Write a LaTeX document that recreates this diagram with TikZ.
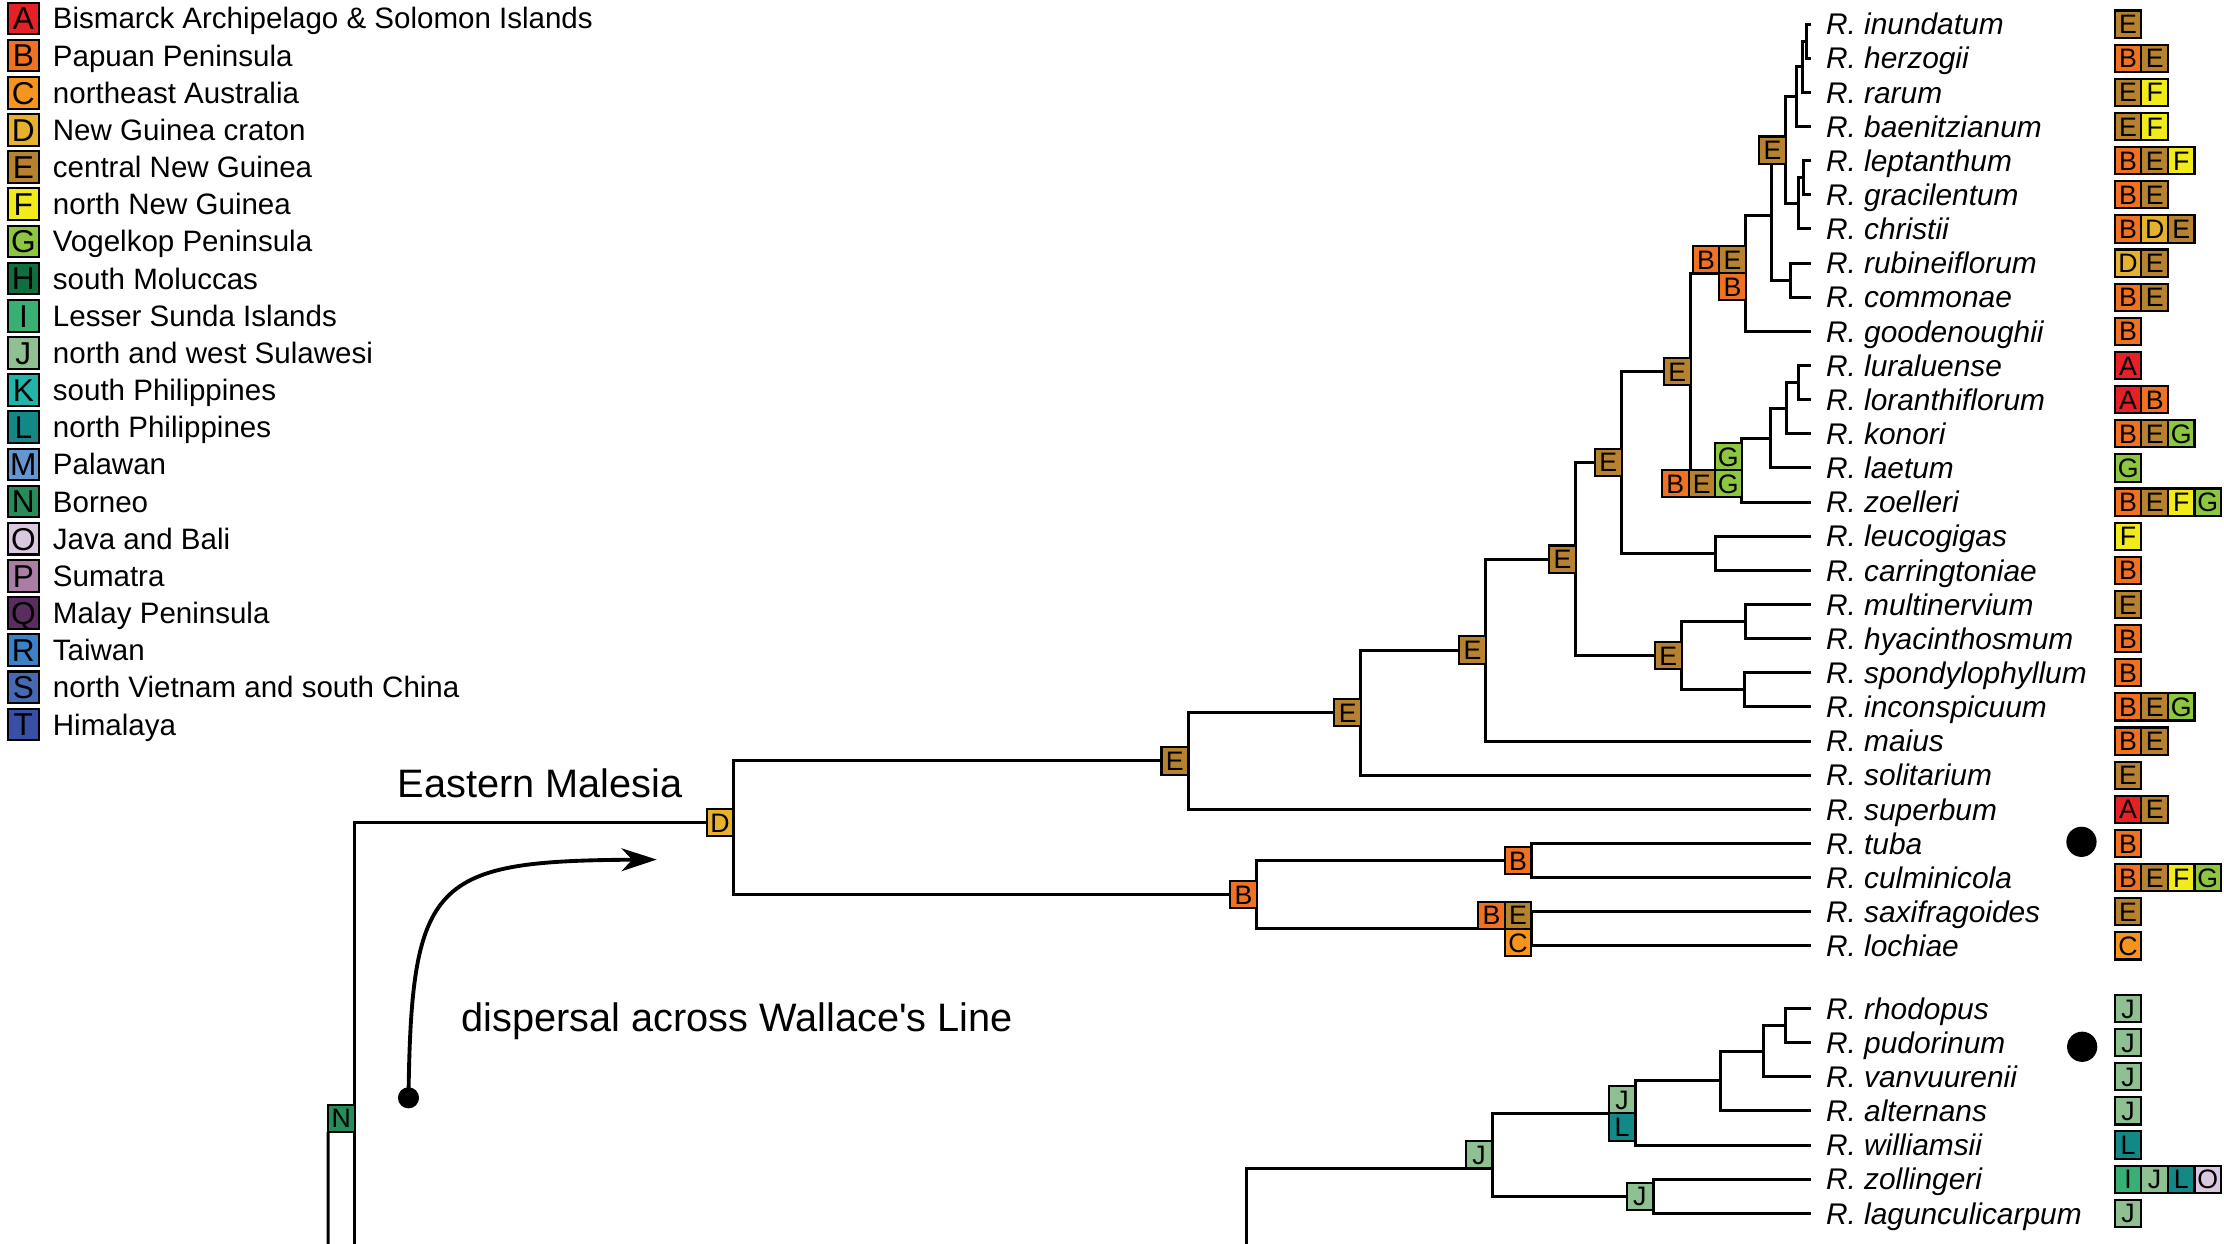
\documentclass[tikz,border=0pt]{standalone}
\usepackage{fontspec}
\setmainfont{Liberation Sans}
\usetikzlibrary{positioning, arrows.meta}

\definecolor{areaA}{RGB}{230,32,39}
\definecolor{areaB}{RGB}{241,113,34}
\definecolor{areaC}{RGB}{247,148,29}
\definecolor{areaD}{RGB}{230,178,46}
\definecolor{areaE}{RGB}{183,130,47}
\definecolor{areaF}{RGB}{242,235,26}
\definecolor{areaG}{RGB}{141,198,63}
\definecolor{areaH}{RGB}{17,110,62}
\definecolor{areaI}{RGB}{56,176,116}
\definecolor{areaJ}{RGB}{143,192,146}
\definecolor{areaK}{RGB}{32,180,170}
\definecolor{areaL}{RGB}{20,135,135}
\definecolor{areaM}{RGB}{100,150,210}
\definecolor{areaN}{RGB}{40,140,90}
\definecolor{areaO}{RGB}{218,200,225}
\definecolor{areaP}{RGB}{170,125,165}
\definecolor{areaQ}{RGB}{90,45,95}
\definecolor{areaR}{RGB}{62,128,200}
\definecolor{areaS}{RGB}{70,105,180}
\definecolor{areaT}{RGB}{55,80,165}

\begin{document}
\begin{tikzpicture}[x=0.14184mm, y=-0.14184mm]

\tikzset{branch/.style = {line width=0.85pt}}
\tikzset{cell/.style = {draw, fill=#1, line width=0.6pt, minimum width=7.55pt, minimum height=7.75pt, inner sep=0pt, outer sep=0pt, font=\fontsize{7.6}{8}\selectfont, text height=5.45pt, text depth=0pt}}
\tikzset{legbox/.style = {draw, fill=#1, line width=0.6pt, minimum width=8.8pt, minimum height=9pt, inner sep=0pt, outer sep=0pt, font=\fontsize{9}{10}\selectfont, text height=6.45pt, text depth=0pt}}
\tikzset{legtext/.style = {anchor=west, inner xsep=3.8pt, inner ysep=0pt, font=\fontsize{8.4}{9}\selectfont, text height=6pt, text depth=0pt}}
\tikzset{taxon/.style = {anchor=west, inner xsep=4.2pt, inner ysep=0pt, font=\fontsize{8.5}{10}\selectfont\itshape, text height=6.1pt, text depth=0pt}}
\tikzset{title/.style = {anchor=west, inner sep=0pt, font=\fontsize{11.3}{13}\selectfont, text height=8.1pt, text depth=0pt}}
\tikzset{dot/.style = {circle, fill, inner sep=0pt, minimum size=8.6pt}}

\useasboundingbox (0,0) rectangle (1568,877);

%legend
\node[legbox=areaA] (kA) at (16.5,13) {A};
\node[legtext, right=0pt of kA] (kAt) {Bismarck Archipelago \& Solomon Islands};
\node[legbox=areaB] (kB) at (16.5,39.2) {B};
\node[legtext, right=0pt of kB] (kBt) {Papuan Peninsula};
\node[legbox=areaC] (kC) at (16.5,65.4) {C};
\node[legtext, right=0pt of kC] (kCt) {northeast Australia};
\node[legbox=areaD] (kD) at (16.5,91.6) {D};
\node[legtext, right=0pt of kD] (kDt) {New Guinea craton};
\node[legbox=areaE] (kE) at (16.5,117.8) {E};
\node[legtext, right=0pt of kE] (kEt) {central New Guinea};
\node[legbox=areaF] (kF) at (16.5,144) {F};
\node[legtext, right=0pt of kF] (kFt) {north New Guinea};
\node[legbox=areaG] (kG) at (16.5,170.2) {G};
\node[legtext, right=0pt of kG] (kGt) {Vogelkop Peninsula};
\node[legbox=areaH] (kH) at (16.5,196.4) {H};
\node[legtext, right=0pt of kH] (kHt) {south Moluccas};
\node[legbox=areaI] (kI) at (16.5,222.6) {I};
\node[legtext, right=0pt of kI] (kIt) {Lesser Sunda Islands};
\node[legbox=areaJ] (kJ) at (16.5,248.8) {J};
\node[legtext, right=0pt of kJ] (kJt) {north and west Sulawesi};
\node[legbox=areaK] (kK) at (16.5,275) {K};
\node[legtext, right=0pt of kK] (kKt) {south Philippines};
\node[legbox=areaL] (kL) at (16.5,301.2) {L};
\node[legtext, right=0pt of kL] (kLt) {north Philippines};
\node[legbox=areaM] (kM) at (16.5,327.4) {M};
\node[legtext, right=0pt of kM] (kMt) {Palawan};
\node[legbox=areaN] (kN) at (16.5,353.6) {N};
\node[legtext, right=0pt of kN] (kNt) {Borneo};
\node[legbox=areaO] (kO) at (16.5,379.8) {O};
\node[legtext, right=0pt of kO] (kOt) {Java and Bali};
\node[legbox=areaP] (kP) at (16.5,406) {P};
\node[legtext, right=0pt of kP] (kPt) {Sumatra};
\node[legbox=areaQ] (kQ) at (16.5,432.2) {Q};
\node[legtext, right=0pt of kQ] (kQt) {Malay Peninsula};
\node[legbox=areaR] (kR) at (16.5,458.4) {R};
\node[legtext, right=0pt of kR] (kRt) {Taiwan};
\node[legbox=areaS] (kS) at (16.5,484.6) {S};
\node[legtext, right=0pt of kS] (kSt) {north Vietnam and south China};
\node[legbox=areaT] (kT) at (16.5,510.8) {T};
\node[legtext, right=0pt of kT] (kTt) {Himalaya};

%titles
\node[title] (em) at (280,552) {Eastern Malesia};
\node[title] (wl) at (325,717) {dispersal across Wallace\textquotesingle s Line};

%taxa
\node[taxon] (t0) at (1276.5,17) {R. inundatum};
\node[taxon] (t1) at (1276.5,41.07) {R. herzogii};
\node[taxon] (t2) at (1276.5,65.14) {R. rarum};
\node[taxon] (t3) at (1276.5,89.21) {R. baenitzianum};
\node[taxon] (t4) at (1276.5,113.28) {R. leptanthum};
\node[taxon] (t5) at (1276.5,137.35) {R. gracilentum};
\node[taxon] (t6) at (1276.5,161.42) {R. christii};
\node[taxon] (t7) at (1276.5,185.49) {R. rubineiflorum};
\node[taxon] (t8) at (1276.5,209.56) {R. commonae};
\node[taxon] (t9) at (1276.5,233.63) {R. goodenoughii};
\node[taxon] (t10) at (1276.5,257.7) {R. luraluense};
\node[taxon] (t11) at (1276.5,281.77) {R. loranthiflorum};
\node[taxon] (t12) at (1276.5,305.84) {R. konori};
\node[taxon] (t13) at (1276.5,329.91) {R. laetum};
\node[taxon] (t14) at (1276.5,353.98) {R. zoelleri};
\node[taxon] (t15) at (1276.5,378.05) {R. leucogigas};
\node[taxon] (t16) at (1276.5,402.12) {R. carringtoniae};
\node[taxon] (t17) at (1276.5,426.19) {R. multinervium};
\node[taxon] (t18) at (1276.5,450.26) {R. hyacinthosmum};
\node[taxon] (t19) at (1276.5,474.33) {R. spondylophyllum};
\node[taxon] (t20) at (1276.5,498.4) {R. inconspicuum};
\node[taxon] (t21) at (1276.5,522.47) {R. maius};
\node[taxon] (t22) at (1276.5,546.54) {R. solitarium};
\node[taxon] (t23) at (1276.5,570.61) {R. superbum};
\node[taxon] (t24) at (1276.5,594.68) {R. tuba};
\node[taxon] (t25) at (1276.5,618.75) {R. culminicola};
\node[taxon] (t26) at (1276.5,642.82) {R. saxifragoides};
\node[taxon] (t27) at (1276.5,666.89) {R. lochiae};
\node[taxon] (t28) at (1276.5,711) {R. rhodopus};
\node[taxon] (t29) at (1276.5,735.07) {R. pudorinum};
\node[taxon] (t30) at (1276.5,759.14) {R. vanvuurenii};
\node[taxon] (t31) at (1276.5,783.21) {R. alternans};
\node[taxon] (t32) at (1276.5,807.28) {R. williamsii};
\node[taxon] (t33) at (1276.5,831.35) {R. zollingeri};
\node[taxon] (t34) at (1276.5,855.42) {R. lagunculicarpum};

%areas of the taxa
\node[cell=areaE] (s0) at (1500.4,17) {E};
\node[cell=areaB] (s1) at (1500.4,41.07) {B};
\node[cell=areaE, right=0pt of s1] (s1b) {E};
\node[cell=areaE] (s2) at (1500.4,65.14) {E};
\node[cell=areaF, right=0pt of s2] (s2b) {F};
\node[cell=areaE] (s3) at (1500.4,89.21) {E};
\node[cell=areaF, right=0pt of s3] (s3b) {F};
\node[cell=areaB] (s4) at (1500.4,113.28) {B};
\node[cell=areaE, right=0pt of s4] (s4b) {E};
\node[cell=areaF, right=0pt of s4b] (s4c) {F};
\node[cell=areaB] (s5) at (1500.4,137.35) {B};
\node[cell=areaE, right=0pt of s5] (s5b) {E};
\node[cell=areaB] (s6) at (1500.4,161.42) {B};
\node[cell=areaD, right=0pt of s6] (s6b) {D};
\node[cell=areaE, right=0pt of s6b] (s6c) {E};
\node[cell=areaD] (s7) at (1500.4,185.49) {D};
\node[cell=areaE, right=0pt of s7] (s7b) {E};
\node[cell=areaB] (s8) at (1500.4,209.56) {B};
\node[cell=areaE, right=0pt of s8] (s8b) {E};
\node[cell=areaB] (s9) at (1500.4,233.63) {B};
\node[cell=areaA] (s10) at (1500.4,257.7) {A};
\node[cell=areaA] (s11) at (1500.4,281.77) {A};
\node[cell=areaB, right=0pt of s11] (s11b) {B};
\node[cell=areaB] (s12) at (1500.4,305.84) {B};
\node[cell=areaE, right=0pt of s12] (s12b) {E};
\node[cell=areaG, right=0pt of s12b] (s12c) {G};
\node[cell=areaG] (s13) at (1500.4,329.91) {G};
\node[cell=areaB] (s14) at (1500.4,353.98) {B};
\node[cell=areaE, right=0pt of s14] (s14b) {E};
\node[cell=areaF, right=0pt of s14b] (s14c) {F};
\node[cell=areaG, right=0pt of s14c] (s14d) {G};
\node[cell=areaF] (s15) at (1500.4,378.05) {F};
\node[cell=areaB] (s16) at (1500.4,402.12) {B};
\node[cell=areaE] (s17) at (1500.4,426.19) {E};
\node[cell=areaB] (s18) at (1500.4,450.26) {B};
\node[cell=areaB] (s19) at (1500.4,474.33) {B};
\node[cell=areaB] (s20) at (1500.4,498.4) {B};
\node[cell=areaE, right=0pt of s20] (s20b) {E};
\node[cell=areaG, right=0pt of s20b] (s20c) {G};
\node[cell=areaB] (s21) at (1500.4,522.47) {B};
\node[cell=areaE, right=0pt of s21] (s21b) {E};
\node[cell=areaE] (s22) at (1500.4,546.54) {E};
\node[cell=areaA] (s23) at (1500.4,570.61) {A};
\node[cell=areaE, right=0pt of s23] (s23b) {E};
\node[cell=areaB] (s24) at (1500.4,594.68) {B};
\node[cell=areaB] (s25) at (1500.4,618.75) {B};
\node[cell=areaE, right=0pt of s25] (s25b) {E};
\node[cell=areaF, right=0pt of s25b] (s25c) {F};
\node[cell=areaG, right=0pt of s25c] (s25d) {G};
\node[cell=areaE] (s26) at (1500.4,642.82) {E};
\node[cell=areaC] (s27) at (1500.4,666.89) {C};
\node[cell=areaJ] (s28) at (1500.4,711) {J};
\node[cell=areaJ] (s29) at (1500.4,735.07) {J};
\node[cell=areaJ] (s30) at (1500.4,759.14) {J};
\node[cell=areaJ] (s31) at (1500.4,783.21) {J};
\node[cell=areaL] (s32) at (1500.4,807.28) {L};
\node[cell=areaI] (s33) at (1500.4,831.35) {I};
\node[cell=areaJ, right=0pt of s33] (s33b) {J};
\node[cell=areaL, right=0pt of s33b] (s33c) {L};
\node[cell=areaO, right=0pt of s33c] (s33d) {O};
\node[cell=areaJ] (s34) at (1500.4,855.42) {J};

\node[dot] (p1) at (1467.5,593.5) {};
\node[dot] (p2) at (1468,738) {};

%inner nodes
\coordinate (n1) at (1273.7,29.0);
\coordinate (n2) at (1270.7,47.1);
\coordinate (n3) at (1266.7,68.2);
\coordinate (n4) at (1271.8,125.3);
\coordinate (n5) at (1267.8,143.4);
\coordinate (n6) at (1259.1,105.8);
\coordinate (n7) at (1262.7,197.5);
\coordinate (n8) at (1249.0,151.7);
\coordinate (n9) at (1230.9,192.6);
\coordinate (n10) at (1268.3,269.7);
\coordinate (n11) at (1259.6,287.8);
\coordinate (n12) at (1248.3,308.8);
\coordinate (n13) at (1227.9,331.4);
\coordinate (n14) at (1191.9,262.0);
\coordinate (n15) at (1209.4,390.1);
\coordinate (n16) at (1143.3,326.0);
\coordinate (n17) at (1230.4,438.2);
\coordinate (n18) at (1229.6,486.4);
\coordinate (n19) at (1185.6,462.3);
\coordinate (n20) at (1110.9,394.2);
\coordinate (n21) at (1047.5,458.3);
\coordinate (n22) at (959.5,502.4);
\coordinate (n23) at (837.6,536.5);
\coordinate (n24) at (1079.6,606.7);
\coordinate (n25) at (1079.6,654.9);
\coordinate (n26) at (886.1,630.8);
\coordinate (n27) at (517,580);
\coordinate (n28) at (1258.7,723.0);
\coordinate (n29) at (1243.0,741.1);
\coordinate (n30) at (1212.8,762.1);
\coordinate (n31) at (1153.0,785.0);
\coordinate (n32) at (1165.5,843.4);
\coordinate (n33) at (1052.2,823.7);
\coordinate (n34) at (250,788.5);
\coordinate (r1) at (250,877);
\coordinate (r2) at (231.4,877);
\coordinate (r3) at (879,877);

%branches
\draw[branch] (t0.west) -| (n1) |- (t1.west);
\draw[branch] (n1) -| (n2) |- (t2.west);
\draw[branch] (n2) -| (n3) |- (t3.west);
\draw[branch] (t4.west) -| (n4) |- (t5.west);
\draw[branch] (n4) -| (n5) |- (t6.west);
\draw[branch] (n3) -| (n6) |- (n5);
\draw[branch] (t7.west) -| (n7) |- (t8.west);
\draw[branch] (n6) -| (n8) |- (n7);
\draw[branch] (n8) -| (n9) |- (t9.west);
\draw[branch] (t10.west) -| (n10) |- (t11.west);
\draw[branch] (n10) -| (n11) |- (t12.west);
\draw[branch] (n11) -| (n12) |- (t13.west);
\draw[branch] (n12) -| (n13) |- (t14.west);
\draw[branch] (n9) -| (n14) |- (n13);
\draw[branch] (t15.west) -| (n15) |- (t16.west);
\draw[branch] (n14) -| (n16) |- (n15);
\draw[branch] (t17.west) -| (n17) |- (t18.west);
\draw[branch] (t19.west) -| (n18) |- (t20.west);
\draw[branch] (n17) -| (n19) |- (n18);
\draw[branch] (n16) -| (n20) |- (n19);
\draw[branch] (n20) -| (n21) |- (t21.west);
\draw[branch] (n21) -| (n22) |- (t22.west);
\draw[branch] (n22) -| (n23) |- (t23.west);
\draw[branch] (t24.west) -| (n24) |- (t25.west);
\draw[branch] (t26.west) -| (n25) |- (t27.west);
\draw[branch] (n24) -| (n26) |- (n25);
\draw[branch] (n23) -| (n27) |- (n26);
\draw[branch] (r1) |- (n27);
\draw[branch] (t28.west) -| (n28) |- (t29.west);
\draw[branch] (n28) -| (n29) |- (t30.west);
\draw[branch] (n29) -| (n30) |- (t31.west);
\draw[branch] (n30) -| (n31) |- (t32.west);
\draw[branch] (t33.west) -| (n32) |- (t34.west);
\draw[branch] (n31) -| (n33) |- (n32);
\draw[branch] (r3) |- (n33);

%ancestral areas
\node[cell=areaE, anchor=east] (b6) at (n6) {E};
\node[cell=areaE, anchor=south east] (b9) at (n9) {E};
\node[cell=areaB, left=0pt of b9] (b9b) {B};
\node[cell=areaB, anchor=north east] (b9c) at (n9) {B};
\node[cell=areaG, anchor=south east] (b13) at (n13) {G};
\node[cell=areaG, anchor=north east] (b13b) at (n13) {G};
\node[cell=areaE, left=0pt of b13b] (b13c) {E};
\node[cell=areaB, left=0pt of b13c] (b13d) {B};
\node[cell=areaE, anchor=east] (b14) at (n14) {E};
\node[cell=areaE, anchor=east] (b16) at (n16) {E};
\node[cell=areaE, anchor=east] (b19) at (n19) {E};
\node[cell=areaE, anchor=east] (b20) at (n20) {E};
\node[cell=areaE, anchor=east] (b21) at (n21) {E};
\node[cell=areaE, anchor=east] (b22) at (n22) {E};
\node[cell=areaE, anchor=east] (b23) at (n23) {E};
\node[cell=areaB, anchor=east] (b24) at (n24) {B};
\node[cell=areaE, anchor=south east] (b25) at (n25) {E};
\node[cell=areaB, left=0pt of b25] (b25b) {B};
\node[cell=areaC, anchor=north east] (b25c) at (n25) {C};
\node[cell=areaB, anchor=east] (b26) at (n26) {B};
\node[cell=areaD, anchor=east] (b27) at (n27) {D};
\node[cell=areaJ, anchor=south east] (b31) at (n31) {J};
\node[cell=areaL, anchor=north east] (b31b) at (n31) {L};
\node[cell=areaJ, anchor=east] (b32) at (n32) {J};
\node[cell=areaJ, anchor=south east] (b33) at (n33) {J};
\node[cell=areaN, anchor=east] (bN) at (n34) {N};
\draw[branch] (bN.south west) -- (r2);

%dispersal arrow
\node[dot, minimum size=6pt] (w0) at (288,774) {};
\coordinate (w1) at (463,606);
\draw[line width=1.1pt, -{Stealth[length=10pt, width=6.5pt, inset=3pt]}] (w0.center) .. controls (290,620) and (305,607) .. (w1);

\end{tikzpicture}
\end{document}
